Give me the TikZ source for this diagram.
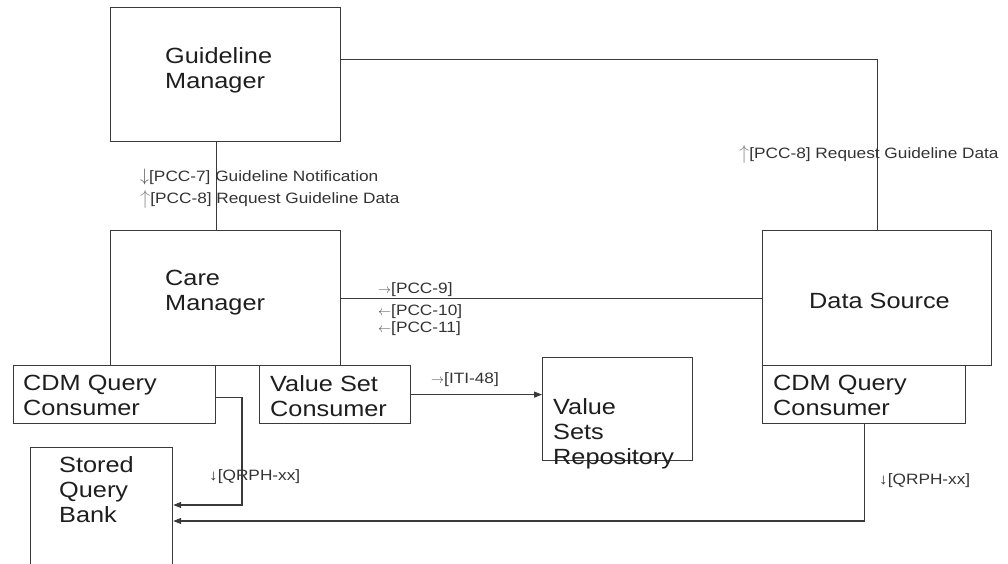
\documentclass[tikz,border=0pt]{standalone}
\usepackage{graphicx}
\usepackage{fontspec}
\setmainfont{Liberation Sans}[FakeStretch=1.15]
\usetikzlibrary{arrows.meta}
\definecolor{ink}{HTML}{3A3A3A}
\definecolor{txtc}{HTML}{1E1E1E}
\definecolor{lblc}{HTML}{333333}
\definecolor{arrc}{HTML}{555555}
% direction marks in front of the transaction labels
\newcommand{\dn}{{\color{arrc}\resizebox*{!}{16pt}{$\downarrow$}}}
\newcommand{\up}{{\color{arrc!70}\resizebox*{!}{18pt}{$\uparrow$}}}
\newcommand{\rt}{{\color{arrc}\resizebox{13pt}{!}{$\rightarrow$}}}
\newcommand{\lt}{{\color{arrc}\resizebox{13pt}{!}{$\leftarrow$}}}
\tikzset{
  box/.style={draw=ink, line width=1.2pt, inner sep=0pt, anchor=north west},
  txt/.style={anchor=north west, inner sep=0pt, align=left, text=txtc,
              font=\fontsize{22}{25}\selectfont},
  lbl/.style={anchor=base west, inner sep=0pt, text=lblc,
              font=\fontsize{15}{17}\selectfont},
  link/.style={draw=ink, line width=1.2pt},
  arr/.style={link, -{Triangle[length=8pt,width=6pt]}}
}
\begin{document}
\begin{tikzpicture}[x=1pt, y=-1pt]
  \useasboundingbox (0,0) rectangle (1008,564);
  \clip (0,0) rectangle (1008,564);

  % components
  \node[box, minimum width=230pt, minimum height=134pt] (gm)   at (110,7)   {};
  \node[box, minimum width=230pt, minimum height=135pt] (cm)   at (110,230) {};
  \node[box, minimum width=202pt, minimum height=58pt]  (cdm1) at (13,365)  {};
  \node[box, minimum width=151pt, minimum height=58pt]  (vsc)  at (259,365) {};
  \node[box, minimum width=150pt, minimum height=103pt] (vsr)  at (542,357) {};
  \node[box, minimum width=229pt, minimum height=135pt] (ds)   at (762,230) {};
  \node[box, minimum width=203pt, minimum height=58pt]  (cdm2) at (762,365) {};
  \node[box, minimum width=142pt, minimum height=150pt] (sqb)  at (30,447)  {};

  % component names
  \node[txt] (gmt)   at (165,47)  {Guideline\\Manager};
  \node[txt] (cmt)   at (165,270) {Care\\Manager};
  \node[txt] (cdm1t) at (23,375)  {CDM Query\\Consumer};
  \node[txt] (vsct)  at (270,375) {Value Set\\Consumer};
  \node[txt] (sqbt)  at (59,456)  {Stored\\Query\\Bank};
  \node[txt] (vsrt)  at (553,398) {Value\\Sets\\Repository};
  \node[txt] (dst)   at (809,293) {Data Source};
  \node[txt] (cdm2t) at (773,375) {CDM Query\\Consumer};

  % connectors
  \coordinate (q1) at (242,505);
  \coordinate (q2) at (0,521);
  \draw[link] ([xshift=-9.5pt]gm.south) -- ([xshift=-9.5pt]cm.north);
  \draw[link] ([yshift=15pt]gm.east) -| (ds.north);
  \draw[link] (cm.east) -- (ds.west);
  \draw[arr] (vsc.east) -- (vsc.east -| vsr.west);
  \draw[arr] ([yshift=-3pt]cdm1.east) -| (q1) -- (sqb.east |- q1);
  \draw[arr] (cdm2.south) |- (sqb.east |- q2);

  % transaction labels
  \node[lbl] (l1)  at (140,182) {\dn[PCC-7] Guideline Notification};
  \node[lbl] (l2)  at (140,204) {\up[PCC-8] Request Guideline Data};
  \node[lbl] (l3)  at (739,159) {\up[PCC-8] Request Guideline Data};
  \node[lbl] (l4)  at (378,293) {\rt[PCC-9]};
  \node[lbl] (l5)  at (378,315) {\lt[PCC-10]};
  \node[lbl] (l6)  at (378,332) {\lt[PCC-11]};
  \node[lbl] (l7)  at (431,383) {\rt[ITI-48]};
  \node[lbl] (l8)  at (209,480) {↓[QRPH-xx]};
  \node[lbl] (l9)  at (879,484) {↓[QRPH-xx]};
\end{tikzpicture}
\end{document}
